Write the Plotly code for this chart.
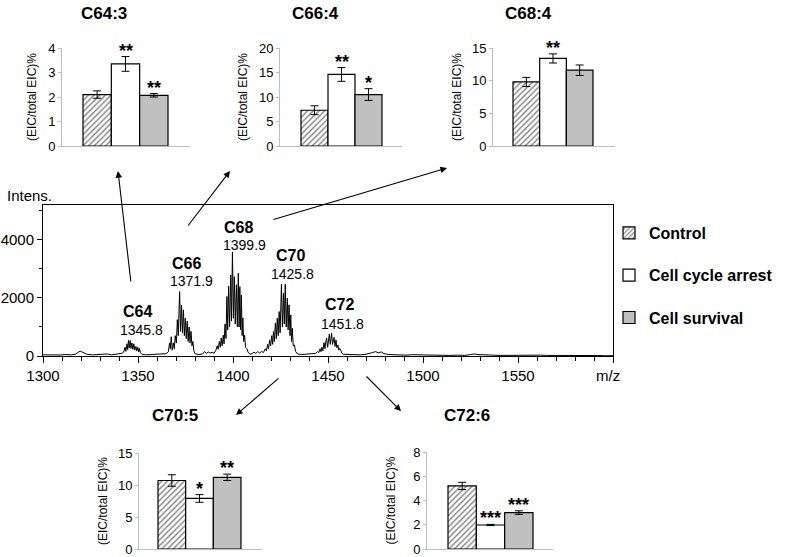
import plotly.graph_objects as go

W, H = 785, 557
FONT = "Liberation Sans, Arial, sans-serif"

# ---------------- data ----------------
groups = ["Control", "Cell cycle arrest", "Cell survival"]
panel_titles = ["C64:3", "C66:4", "C68:4", "C70:5", "C72:6"]
control_mean = [2.10, 7.3, 9.8, 10.7, 5.2]
control_err = [0.15, 0.9, 0.7, 0.9, 0.3]
arrest_mean = [3.35, 14.6, 13.4, 7.9, 1.98]
arrest_err = [0.30, 1.4, 0.7, 0.6, 0.05]
survival_mean = [2.07, 10.5, 11.6, 11.2, 3.0]
survival_err = [0.07, 1.2, 0.8, 0.5, 0.15]
arrest_sig = ["**", "**", "**", "*", "***"]
survival_sig = ["**", "*", "", "**", "***"]
panel_ymax = [4, 20, 15, 15, 8]
panel_dtick = [1, 5, 5, 5, 2]

peak_names = ["C64", "C66", "C68", "C70", "C72"]
peak_mz_text = ["1345.8", "1371.9", "1399.9", "1425.8", "1451.8"]

spec_mz = [
    1300, 1303, 1306, 1309, 1312, 1315, 1317, 1318.5, 1319.5, 1320.5, 1321.5, 1323, 1326, 1329, 1332, 1334, 1336, 1338, 1340, 1341.5, 1342.5,
    1343.2, 1343.6, 1344.2, 1344.6, 1345.0, 1345.4, 1345.9, 1346.3, 1346.8, 1347.3, 1347.8, 1348.3, 1348.9, 1349.4, 1349.9, 1350.4, 1350.8, 1351.3, 1352, 1354, 1357, 1360, 1363, 1365,
    1366, 1366.6, 1367.0, 1367.5, 1368.0, 1368.6, 1369.1,
    1369.6, 1370.2, 1370.7, 1371.2, 1371.9, 1372.4, 1372.9, 1373.4, 1373.9, 1374.4, 1374.9, 1375.4, 1375.9, 1376.4, 1376.9, 1377.4, 1377.9, 1378.4, 1378.9, 1379.4,
    1380, 1382, 1384, 1385, 1386, 1387, 1388, 1389, 1390, 1391, 1391.7, 1392.2, 1392.8, 1393.3, 1393.8, 1394.3, 1394.9, 1395.3, 1395.8,
    1396.3, 1396.8, 1397.2, 1397.7, 1398.2, 1398.8, 1399.2, 1399.7, 1400.2, 1400.7, 1401.2, 1401.8, 1402.3, 1402.8, 1403.2, 1403.6, 1404.0, 1404.4, 1404.8, 1405.2, 1405.6, 1406.1, 1406.6, 1407.3,
    1408, 1409, 1410, 1411, 1412, 1413, 1414, 1415, 1416, 1417, 1417.6, 1418.2, 1418.7, 1419.3, 1419.8, 1420.4, 1420.9,
    1421.3, 1421.8, 1422.3, 1422.8, 1423.3, 1423.8, 1424.3, 1424.8, 1425.5, 1426.0, 1426.6, 1427.0, 1427.5, 1428.0, 1428.6, 1429.0, 1429.5, 1430.0, 1430.4, 1430.8, 1431.2, 1431.7, 1432.3,
    1433, 1434, 1436, 1438, 1440, 1442, 1443.5, 1444.5, 1445.2, 1445.8, 1446.3, 1446.8, 1447.3,
    1447.9, 1448.4, 1448.9, 1449.3, 1449.8, 1450.3, 1450.7, 1451.2, 1451.9, 1452.4, 1452.8, 1453.2, 1453.7, 1454.2, 1454.7, 1455.2, 1455.7, 1456.2, 1456.7, 1457.3,
    1458, 1461, 1464, 1467, 1470, 1472, 1473.5, 1475, 1476.5, 1478, 1479.5, 1482, 1485, 1488, 1491, 1494, 1497, 1500, 1503, 1506,
    1510, 1514, 1518, 1522, 1525, 1527, 1529, 1531, 1534, 1537, 1540, 1545, 1550, 1553, 1556, 1558, 1560, 1562, 1565, 1570, 1575, 1580, 1583, 1585, 1588, 1592, 1596, 1600,
]
spec_int = [
    40, 30, 45, 35, 50, 40, 60, 110, 170, 140, 100, 60, 40, 50, 45, 70, 40, 50, 60, 90, 140,
    300, 160, 420, 220, 550, 280, 530, 260, 450, 230, 420, 200, 330, 170, 300, 140, 260, 110, 60, 40, 50, 40, 60, 80,
    150, 450, 250, 665, 200, 450, 250,
    700, 450, 1250, 700, 2220, 850, 1750, 800, 1590, 700, 1300, 600, 1200, 500, 1000, 450, 850, 350, 500, 180,
    80, 50, 70, 150, 90, 140, 100, 130, 90, 200, 350, 230, 500, 300, 620, 350, 720, 420, 1100,
    600, 2050, 900, 2400, 1000, 2790, 1200, 3575, 1300, 2735, 1100, 2450, 1000, 2850, 1000, 2390, 900, 2100, 700, 1310, 500, 720, 300, 250,
    120, 60, 80, 130, 90, 150, 100, 160, 120, 250, 180, 400, 250, 550, 350, 700, 400,
    840, 500, 1130, 600, 1300, 700, 1530, 800, 2470, 1000, 2160, 1100, 2470, 1000, 1990, 900, 1760, 700, 1415, 500, 955, 350, 380,
    150, 70, 50, 60, 50, 70, 90, 150, 120, 250, 150, 300, 180,
    460, 250, 520, 610, 300, 700, 760, 400, 780, 400, 560, 640, 330, 550, 280, 380, 200, 260, 200, 100,
    60, 45, 50, 40, 60, 80, 120, 150, 110, 140, 80, 50, 40, 50, 30, 45, 40, 35, 45, 30,
    40, 20, 30, 20, 50, 70, 50, 40, 20, 30, 20, 25, 20, 30, 40, 50, 40, 30, 20, 20, 20, 25, 40, 35, 30, 15, 10, 10,
]
spec_xticks = [1300, 1350, 1400, 1450, 1500, 1550, 1600]
spec_yticks = [0, 2000, 4000]

# ---------------- layout (pixel positions) ----------------
panels_px = [
    dict(ax=(62, 190), bars=(83, 168), y=(48, 146), title=(104, 13), ylab=32),
    dict(ax=(280, 402), bars=(301, 382), y=(48, 146), title=(315, 13), ylab=243),
    dict(ax=(493, 615), bars=(513, 593), y=(48, 146), title=(528, 13), ylab=457),
    dict(ax=(139, 262), bars=(158, 241), y=(453, 549), title=(175, 415), ylab=103),
    dict(ax=(427, 553), bars=(448, 533), y=(452, 549), title=(467, 415), ylab=390),
]
spec_box = dict(x=(43, 613), y=(205, 356))
peak_name_px = [(137, 311), (186, 263), (238, 227), (290, 255), (339, 304)]
peak_num_px = [(141, 330), (191, 281), (244, 245), (292, 274), (342, 324)]
arrows_px = [  # head (x, y), tail (x, y)
    ((118, 171), (131, 283)),
    ((230, 171), (187, 227)),
    ((447, 168), (272, 220)),
    ((236, 415), (280, 377)),
    ((401, 411), (365, 375)),
]


def fx(px):
    return px / W


def fy(py):
    return 1 - py / H


fig = go.Figure()
layout = {}
annotations = []
fills = ["white", "white", "#c0c0c0"]
AXGRAY = "#bdbdbd"

for i, p in enumerate(panels_px):
    n = "" if i == 0 else str(i + 1)
    xa, ya = "x" + n, "y" + n
    means = [control_mean[i], arrest_mean[i], survival_mean[i]]
    errs = [control_err[i], arrest_err[i], survival_err[i]]
    for j, g in enumerate(groups):
        marker = dict(color=fills[j], line=dict(color="black", width=1.2))
        if j == 0:
            marker["pattern"] = dict(shape="/", fgcolor="black", bgcolor="white",
                                     size=4, solidity=0.35)
        fig.add_trace(go.Bar(
            x=[j], y=[means[j]], width=1, name=g, legendgroup=g,
            showlegend=(i == 0), marker=marker,
            error_y=dict(type="data", array=[errs[j]], color="black",
                         thickness=1, width=4),
            xaxis=xa, yaxis=ya, hoverinfo="skip"))
    unit = (p["bars"][1] - p["bars"][0]) / 3
    xr = [-0.5 - (p["bars"][0] - p["ax"][0]) / unit,
          2.5 + (p["ax"][1] - p["bars"][1]) / unit]
    layout["xaxis" + n] = dict(
        domain=[fx(p["ax"][0]), fx(p["ax"][1])], range=xr, anchor=ya,
        showline=True, linecolor=AXGRAY, linewidth=1, showticklabels=False,
        ticks="", showgrid=False, zeroline=False, fixedrange=True)
    layout["yaxis" + n] = dict(
        domain=[fy(p["y"][1]), fy(p["y"][0])], range=[0, panel_ymax[i]],
        dtick=panel_dtick[i], tick0=0, anchor=xa, showline=True,
        linecolor=AXGRAY, linewidth=1, ticks="outside", ticklen=3,
        tickcolor=AXGRAY, showgrid=False, zeroline=False,
        tickfont=dict(size=13, color="black", family=FONT), fixedrange=True)
    annotations.append(dict(
        xref="paper", yref="paper", x=fx(p["title"][0]), y=fy(p["title"][1]),
        text="<b>%s</b>" % panel_titles[i], showarrow=False,
        xanchor="center", yanchor="middle",
        font=dict(size=17, color="black", family=FONT)))
    annotations.append(dict(
        xref="paper", yref="paper", x=fx(p["ylab"]),
        y=fy((p["y"][0] + p["y"][1]) / 2), text="(EIC/total EIC)%",
        textangle=-90, showarrow=False, xanchor="center", yanchor="middle",
        font=dict(size=12, color="black", family=FONT)))
    for j, sig in ((1, arrest_sig[i]), (2, survival_sig[i])):
        if sig:
            m = arrest_mean[i] if j == 1 else survival_mean[i]
            e = arrest_err[i] if j == 1 else survival_err[i]
            annotations.append(dict(
                xref=xa, yref=ya, x=j, y=m + e, text="<b>%s</b>" % sig,
                showarrow=False, xanchor="center", yanchor="bottom", yshift=-6,
                font=dict(size=18, color="black", family=FONT)))

# spectrum
fig.add_trace(go.Scatter(
    x=spec_mz, y=spec_int, mode="lines", line=dict(color="black", width=1),
    xaxis="x6", yaxis="y6", showlegend=False, hoverinfo="skip"))
layout["xaxis6"] = dict(
    domain=[fx(spec_box["x"][0]), fx(spec_box["x"][1])], range=[1300, 1600],
    anchor="y6", showline=True, mirror=True, linecolor="black", linewidth=1,
    ticks="outside", ticklen=6, tickcolor="black", tickmode="array",
    tickvals=spec_xticks, ticktext=[str(v) for v in spec_xticks[:-1]] + [""],
    minor=dict(tickmode="linear", tick0=1300, dtick=10, ticks="outside",
               ticklen=4, tickcolor="black"),
    showgrid=False, zeroline=False,
    tickfont=dict(size=15, color="black", family=FONT), fixedrange=True)
layout["yaxis6"] = dict(
    domain=[fy(spec_box["y"][1]), fy(spec_box["y"][0])], range=[0, 5200],
    anchor="x6", showline=True, mirror=True, linecolor="black", linewidth=1,
    ticks="outside", ticklen=5, tickcolor="black", tickmode="array",
    tickvals=spec_yticks, ticktext=[str(v) for v in spec_yticks],
    minor=dict(tickmode="linear", tick0=0, dtick=1000, ticks="outside",
               ticklen=3, tickcolor="black"),
    showgrid=False, zeroline=False,
    tickfont=dict(size=15, color="black", family=FONT), fixedrange=True)

for k in range(len(peak_names)):
    annotations.append(dict(
        xref="paper", yref="paper", x=fx(peak_name_px[k][0]), y=fy(peak_name_px[k][1]),
        text="<b>%s</b>" % peak_names[k], showarrow=False,
        xanchor="center", yanchor="middle",
        font=dict(size=16, color="black", family=FONT)))
    annotations.append(dict(
        xref="paper", yref="paper", x=fx(peak_num_px[k][0]), y=fy(peak_num_px[k][1]),
        text=peak_mz_text[k], showarrow=False,
        xanchor="center", yanchor="middle",
        font=dict(size=14, color="black", family=FONT)))

annotations.append(dict(
    xref="paper", yref="paper", x=fx(5), y=fy(195), text="Intens.",
    showarrow=False, xanchor="left", yanchor="middle",
    font=dict(size=15, color="black", family=FONT)))
annotations.append(dict(
    xref="paper", yref="paper", x=fx(608), y=fy(375), text="m/z",
    showarrow=False, xanchor="center", yanchor="middle",
    font=dict(size=15, color="black", family=FONT)))

for head, tail in arrows_px:
    annotations.append(dict(
        xref="paper", yref="paper", x=fx(head[0]), y=fy(head[1]),
        ax=tail[0] - head[0], ay=tail[1] - head[1], text="",
        showarrow=True, arrowhead=2, arrowsize=1.2, arrowwidth=1.1,
        arrowcolor="black"))

fig.update_layout(
    **layout,
    annotations=annotations,
    width=W, height=H, autosize=False,
    margin=dict(l=0, r=0, t=0, b=0, autoexpand=False),
    paper_bgcolor="white", plot_bgcolor="rgba(0,0,0,0)",
    barmode="overlay",
    font=dict(family=FONT, color="black"),
    legend=dict(
        x=fx(609), y=fy(216), xanchor="left", yanchor="top",
        bgcolor="rgba(0,0,0,0)", borderwidth=0, tracegroupgap=18.5,
        font=dict(size=16, color="black", family=FONT, weight="bold"),
        itemclick=False, itemdoubleclick=False),
)

fig.write_html("out.html", config={"displayModeBar": False},
               post_script="document.body.style.margin='0px';")
